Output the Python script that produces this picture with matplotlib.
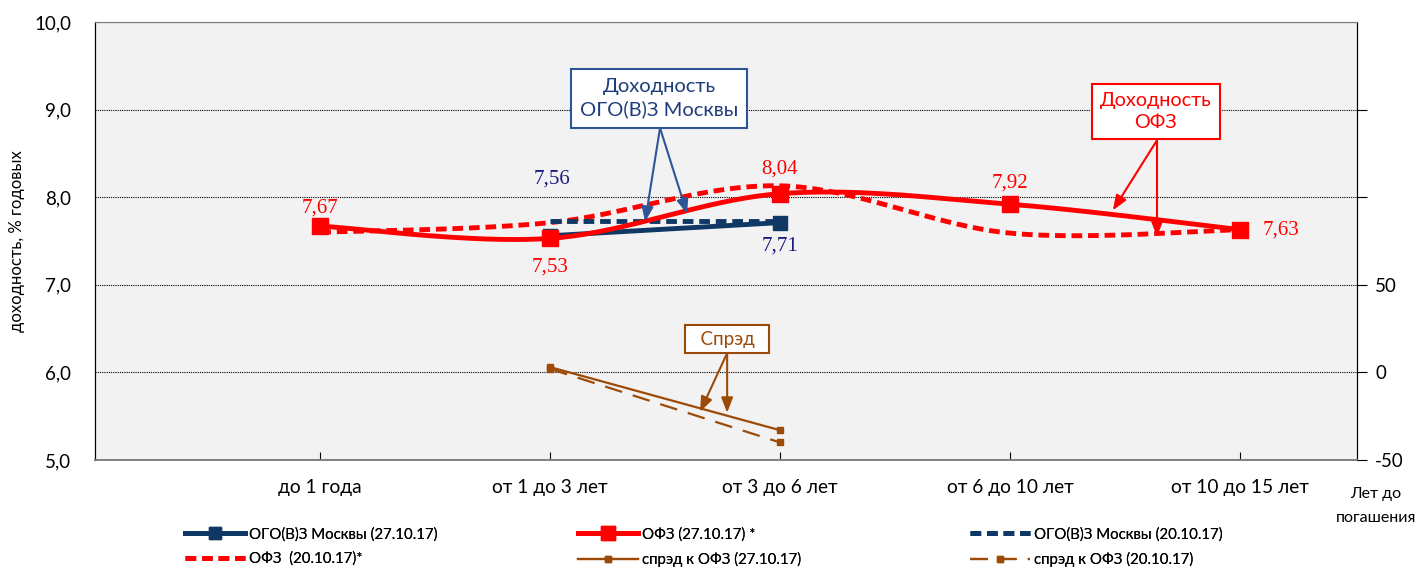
import matplotlib
matplotlib.use("Agg")
import matplotlib.pyplot as plt
from matplotlib.lines import Line2D
import numpy as np

plt.rcParams['font.family'] = ['Lato', 'DejaVu Sans']

# данные
categories = ['до 1 года', 'от 1 до 3 лет', 'от 3 до 6 лет', 'от 6 до 10 лет', 'от 10 до 15 лет']
ofz_27 = [7.67, 7.53, 8.04, 7.92, 7.63]
ofz_20 = [7.60, 7.71, 8.13, 7.59, 7.63]
ogo_27 = [7.56, 7.71]
ogo_20 = [7.73, 7.73]
ogo_idx = [1, 2]
spread_27 = [3, -33]
spread_20 = [2, -40]

ofz_labels = ['7,67', '7,53', '8,04', '7,92', '7,63']
ogo_labels = ['7,56', '7,71']

NAVY = '#0f3864'
RED = '#ff0000'
BROWN = '#9c4a06'


def suavizar(x, y, n=40):
    # curva tipo Excel (Catmull-Rom em Bezier)
    x = np.asarray(x, float)
    y = np.asarray(y, float)
    px = np.concatenate([[x[0]], x, [x[-1]]])
    py = np.concatenate([[y[0]], y, [y[-1]]])
    xs, ys = [], []
    t = np.linspace(0, 1, n)
    for i in range(1, len(px) - 2):
        p0 = np.array([px[i], py[i]])
        p3 = np.array([px[i + 1], py[i + 1]])
        p1 = p0 + (np.array([px[i + 1], py[i + 1]]) - np.array([px[i - 1], py[i - 1]])) / 6
        p2 = p3 - (np.array([px[i + 2], py[i + 2]]) - np.array([px[i], py[i]])) / 6
        b = (np.outer((1 - t) ** 3, p0) + np.outer(3 * (1 - t) ** 2 * t, p1)
             + np.outer(3 * (1 - t) * t ** 2, p2) + np.outer(t ** 3, p3))
        xs.extend(b[:, 0])
        ys.extend(b[:, 1])
    return np.array(xs), np.array(ys)


x = np.arange(1, len(categories) + 1)
x_ogo = x[ogo_idx]

fig = plt.figure(figsize=(14.15, 5.69), dpi=100)
ax = fig.add_axes([95 / 1415, 1 - 460 / 569, (1357 - 95) / 1415, (460 - 22) / 569])
ax.set_facecolor('#f2f2f2')
ax2 = ax.twinx()

sx, sy = suavizar(x, ofz_20)
ax.plot(sx, sy, color=RED, lw=3.5, ls=(0, (2.2, 1.2)), zorder=3)
ax.plot(x_ogo, ogo_20, color=NAVY, lw=3.5, ls=(0, (2.2, 1.2)), zorder=4)
ax.plot(x_ogo, ogo_27, color=NAVY, lw=3.5, marker='s', ms=10, zorder=5)
sx, sy = suavizar(x, ofz_27)
ax.plot(sx, sy, color=RED, lw=3.5, zorder=6)
ax.plot(x, ofz_27, ls='none', color=RED, marker='s', ms=11, zorder=7)

ax2.plot(x_ogo, spread_27, color=BROWN, lw=1.6, marker='s', ms=5)
ax2.plot(x_ogo, spread_20, color=BROWN, lw=1.6, ls=(0, (8, 5)), marker='s', ms=5)

# rótulos dos valores
serif = dict(fontsize=15, family='Liberation Serif', ha='center', va='center',
             textcoords='offset points')
ofz_offs = [(0, 13), (0, -21), (0, 18), (0, 15), (30, 0)]
for i in range(5):
    ax.annotate(ofz_labels[i], (x[i], ofz_27[i]), xytext=ofz_offs[i], color=RED, **serif)
ax.annotate(ogo_labels[0], (x_ogo[0], ogo_27[0]), xytext=(1, 41), color='#1a1a80', **serif)
ax.annotate(ogo_labels[1], (x_ogo[1], ogo_27[1]), xytext=(0, -17), color='#1a1a80', **serif)


# caixas com setas
def caixa(texto, pos, base, alvos, cor, tcor, pad, fs):
    ax.text(pos[0], pos[1], texto, ha='center', va='center', color=tcor, fontsize=fs,
            linespacing=1.4, zorder=10,
            bbox=dict(boxstyle=f'square,pad={pad}', fc='white', ec=cor, lw=1.5))
    for alvo in alvos:
        ax.annotate('', xy=alvo, xytext=base, zorder=9,
                    arrowprops=dict(arrowstyle='-|>,head_length=0.9,head_width=0.35',
                                    color=cor, lw=1.5, shrinkA=0, shrinkB=0))


caixa('Доходность\nОГО(В)З Москвы', (2.474, 9.13), (2.478, 8.79),
      [(2.413, 7.72), (2.596, 7.81)], '#2f5597', '#1f3d7a', 0.45, 14.5)
caixa('Доходность\nОФЗ', (4.635, 8.98), (4.64, 8.65),
      [(4.448, 7.85), (4.64, 7.55)], RED, RED, 0.4, 14.3)
caixa('  Спрэд  ', (2.77, 6.38), (2.77, 6.22),
      [(2.652, 5.55), (2.77, 5.54)], BROWN, BROWN, 0.3, 13.5)

# eixos
ax.set_xlim(0.02, 5.51)
ax.set_ylim(5, 10)
ax2.set_ylim(-50, 200)
ax.set_yticks(np.arange(5, 10.01, 1))
ax.set_yticklabels([f'{v:.1f}'.replace('.', ',') for v in np.arange(5, 10.01, 1)], fontsize=13.5)
ax.yaxis.grid(True, color='black', ls=(0, (1, 1)), lw=0.8)
ax.tick_params(axis='y', length=0, pad=17)
ax.set_xticks(x)
ax.set_xticklabels(categories, fontsize=13.8)
ax.tick_params(axis='x', direction='in', length=6, pad=14)
ax2.set_yticks([-50, 0, 50, 100, 150])
ax2.set_yticklabels(['-50', '0', '50', '', ''], fontsize=13.5)
ax2.tick_params(axis='y', length=7, pad=6)
ax.set_ylabel('доходность, % годовых', fontsize=12)
ax.yaxis.set_label_coords(-0.0555, 0.5)
for a in (ax, ax2):
    a.spines['bottom'].set_color('#808080')
    a.spines['top'].set_color('#808080')
    a.spines['left'].set_color('black')
    a.spines['right'].set_color('black')
    a.spines['bottom'].set_linewidth(1.2)

fig.text(1376 / 1415, 1 - 506 / 569, 'Лет до\nпогашения', ha='center', va='center',
         fontsize=11.5, linespacing=1.9)

# legenda em três colunas
h_ogo27 = Line2D([], [], color=NAVY, lw=3.5, marker='s', ms=9)
h_ofz27 = Line2D([], [], color=RED, lw=3.5, marker='s', ms=10)
h_ogo20 = Line2D([], [], color=NAVY, lw=3.5, ls=(0, (2.2, 1.2)))
h_ofz20 = Line2D([], [], color=RED, lw=3.5, ls=(0, (2.2, 1.2)))
h_sp27 = Line2D([], [], color=BROWN, lw=1.6, marker='s', ms=5)
h_sp20 = Line2D([], [], color=BROWN, lw=1.6, ls=(0, (8, 5)), marker='s', ms=5)

colunas = [
    ([h_ogo27, h_ofz20], ['ОГО(В)З Москвы (27.10.17)', 'ОФЗ  (20.10.17)*'], 185),
    ([h_ofz27, h_sp27], ['ОФЗ (27.10.17) *', 'спрэд к ОФЗ (27.10.17)'], 578),
    ([h_ogo20, h_sp20], ['ОГО(В)З Москвы (20.10.17)', 'спрэд к ОФЗ (20.10.17)'], 970),
]
for hs, ls, px in colunas:
    leg = fig.legend(hs, ls, loc='upper left', bbox_to_anchor=(px / 1415, 1 - 527 / 569),
                     frameon=False, fontsize=10.8, handlelength=4.0, handletextpad=0.25,
                     labelspacing=0.7, borderaxespad=0, borderpad=0)
    fig.add_artist(leg)

fig.savefig('out.png', dpi=100)
